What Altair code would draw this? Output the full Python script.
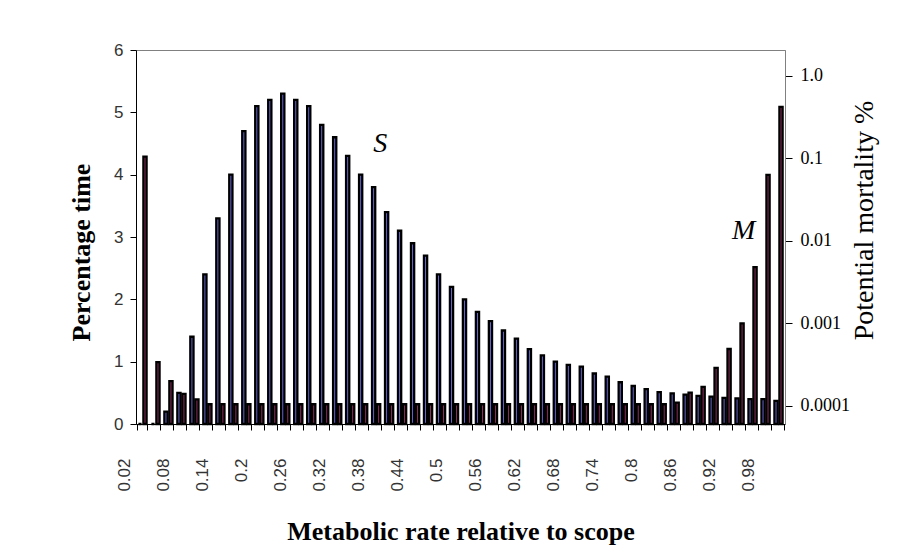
import json
import altair as alt
import pandas as pd

# ---------------- data ----------------
CATEGORIES = ["0.02", "0.04", "0.06", "0.08", "0.1", "0.12", "0.14", "0.16", "0.18", "0.2",
              "0.22", "0.24", "0.26", "0.28", "0.3", "0.32", "0.34", "0.36", "0.38", "0.4",
              "0.42", "0.44", "0.46", "0.48", "0.5", "0.52", "0.54", "0.56", "0.58", "0.6",
              "0.62", "0.64", "0.66", "0.68", "0.7", "0.72", "0.74", "0.76", "0.78", "0.8",
              "0.82", "0.84", "0.86", "0.88", "0.9", "0.92", "0.94", "0.96", "0.98", "1"]

TICK_LABELS = ["0.02", "0.08", "0.14", "0.2", "0.26", "0.32", "0.38", "0.44", "0.5",
               "0.56", "0.62", "0.68", "0.74", "0.8", "0.86", "0.92", "0.98"]

# S : percentage time (left axis)
PERCENT_TIME = [0.0, 0.0, 0.2, 0.5, 1.4, 2.4, 3.3, 4.0, 4.7, 5.1,
                5.2, 5.3, 5.2, 5.1, 4.8, 4.6, 4.3, 4.0, 3.8, 3.4,
                3.1, 2.9, 2.7, 2.4, 2.2, 2.0, 1.8, 1.65, 1.5, 1.37,
                1.2, 1.1, 1.0, 0.95, 0.92, 0.81, 0.76, 0.67, 0.61, 0.56,
                0.51, 0.49, 0.47, 0.45, 0.44, 0.42, 0.41, 0.40, 0.40, 0.37]

# M : potential mortality % (right, log axis)
MORTALITY = [0.105, 0.00034, 0.0002, 0.00014, 0.00012, 0.000105, 0.000105, 0.000105, 0.000105, 0.000105,
             0.000105, 0.000105, 0.000105, 0.000105, 0.000105, 0.000105, 0.000105, 0.000105, 0.000105, 0.000105,
             0.000105, 0.000105, 0.000105, 0.000105, 0.000105, 0.000105, 0.000105, 0.000105, 0.000105, 0.000105,
             0.000105, 0.000105, 0.000105, 0.000105, 0.000105, 0.000105, 0.000105, 0.000105, 0.000105, 0.000105,
             0.000105, 0.00011, 0.000145, 0.00017, 0.00029, 0.00049, 0.001, 0.0048, 0.063, 0.42]

LEFT_TICKS = [0, 1, 2, 3, 4, 5, 6]
RIGHT_TICKS = [0.0001, 0.001, 0.01, 0.1, 1.0]
RIGHT_DOMAIN = [6.05e-5, 2.05]

ANNOT_TEXT = ["S", "M"]
ANNOT_CAT = ["0.38", "0.94"]
ANNOT_VALUE = [4.5, 3.1]

SERIES = ["S", "M"]

df_s = pd.DataFrame({"category": CATEGORIES, "value": PERCENT_TIME, "series": "S"})
df_m = pd.DataFrame({"category": CATEGORIES, "value": MORTALITY, "series": "M"})
df_t = pd.DataFrame({"category": ANNOT_CAT, "value": ANNOT_VALUE, "label": ANNOT_TEXT})

SERIF = "Liberation Serif"
SANS = "Liberation Sans"

label_expr = "indexof(" + json.dumps(TICK_LABELS) + ", datum.value) >= 0 ? datum.value : ''"

x_enc = alt.X(
    "category:N",
    sort=CATEGORIES,
    scale=alt.Scale(domain=CATEGORIES, paddingInner=0.23, paddingOuter=0.115),
    axis=alt.Axis(
        title="Metabolic rate relative to scope",
        titleFont=SERIF, titleFontSize=26, titleFontWeight="bold", titleColor="black",
        titlePadding=27,
        labelExpr=label_expr, labelAngle=-90, labelOffset=-17.5, labelPadding=28,
        labelFont=SANS, labelFontSize=17, labelColor="#333333", labelOverlap=False,
        tickBand="extent", tickSize=6, tickColor="black", domainColor="black",
    ),
)

xoff = alt.XOffset("series:N", scale=alt.Scale(domain=SERIES, paddingInner=0, paddingOuter=0))

y_left = alt.Y(
    "value:Q",
    scale=alt.Scale(domain=[0, 6], nice=False, zero=True),
    axis=alt.Axis(
        values=LEFT_TICKS, grid=False,
        title="Percentage time",
        titleFont=SERIF, titleFontSize=26, titleFontWeight="bold", titleColor="black",
        titlePadding=19, titleY=202,
        labelFont=SANS, labelFontSize=17, labelColor="#333333", labelPadding=7,
        tickSize=6, tickColor="black", domainColor="black",
    ),
)

y_right = alt.Y(
    "value:Q",
    scale=alt.Scale(type="log", domain=RIGHT_DOMAIN, nice=False),
    axis=alt.Axis(
        orient="right", values=RIGHT_TICKS, grid=False,
        labelExpr="datum.value >= 1 ? '1.0' : '' + datum.value",
        title="Potential mortality %",
        titleFont=SERIF, titleFontSize=28, titleFontWeight="normal", titleColor="black",
        titleAngle=270, titleBaseline="top", titlePadding=1, titleY=170,
        labelFont=SERIF, labelFontSize=18, labelColor="black", labelPadding=8,
        tickSize=7, tickColor="black", domainColor="#808080",
    ),
)

s_bars = alt.Chart(df_s).mark_bar(
    width=3.2, fill="#6f6fe0", stroke="black", strokeWidth=2.3
).encode(x=x_enc, xOffset=xoff, y=y_left)

annot = alt.Chart(df_t).mark_text(
    font=SERIF, fontStyle="italic", fontSize=28, color="black", dx=4
).encode(x=x_enc, y=y_left, text="label:N")

m_bars = alt.Chart(df_m).mark_bar(
    width=3.2, fill="#993366", stroke="black", strokeWidth=2.3
).encode(x=x_enc, xOffset=xoff, y=y_right, y2=alt.Y2(datum=RIGHT_DOMAIN[0]))

chart = alt.layer(alt.layer(s_bars, annot), m_bars).resolve_scale(
    y="independent"
).properties(
    width=649, height=374,
    autosize=alt.AutoSizeParams(type="none"),
    padding={"left": 128, "top": 42, "right": 111, "bottom": 128},
    background="white",
).configure_view(stroke="#808080", strokeWidth=1)

chart.save("out.html", embed_options={"renderer": "svg", "actions": False})
